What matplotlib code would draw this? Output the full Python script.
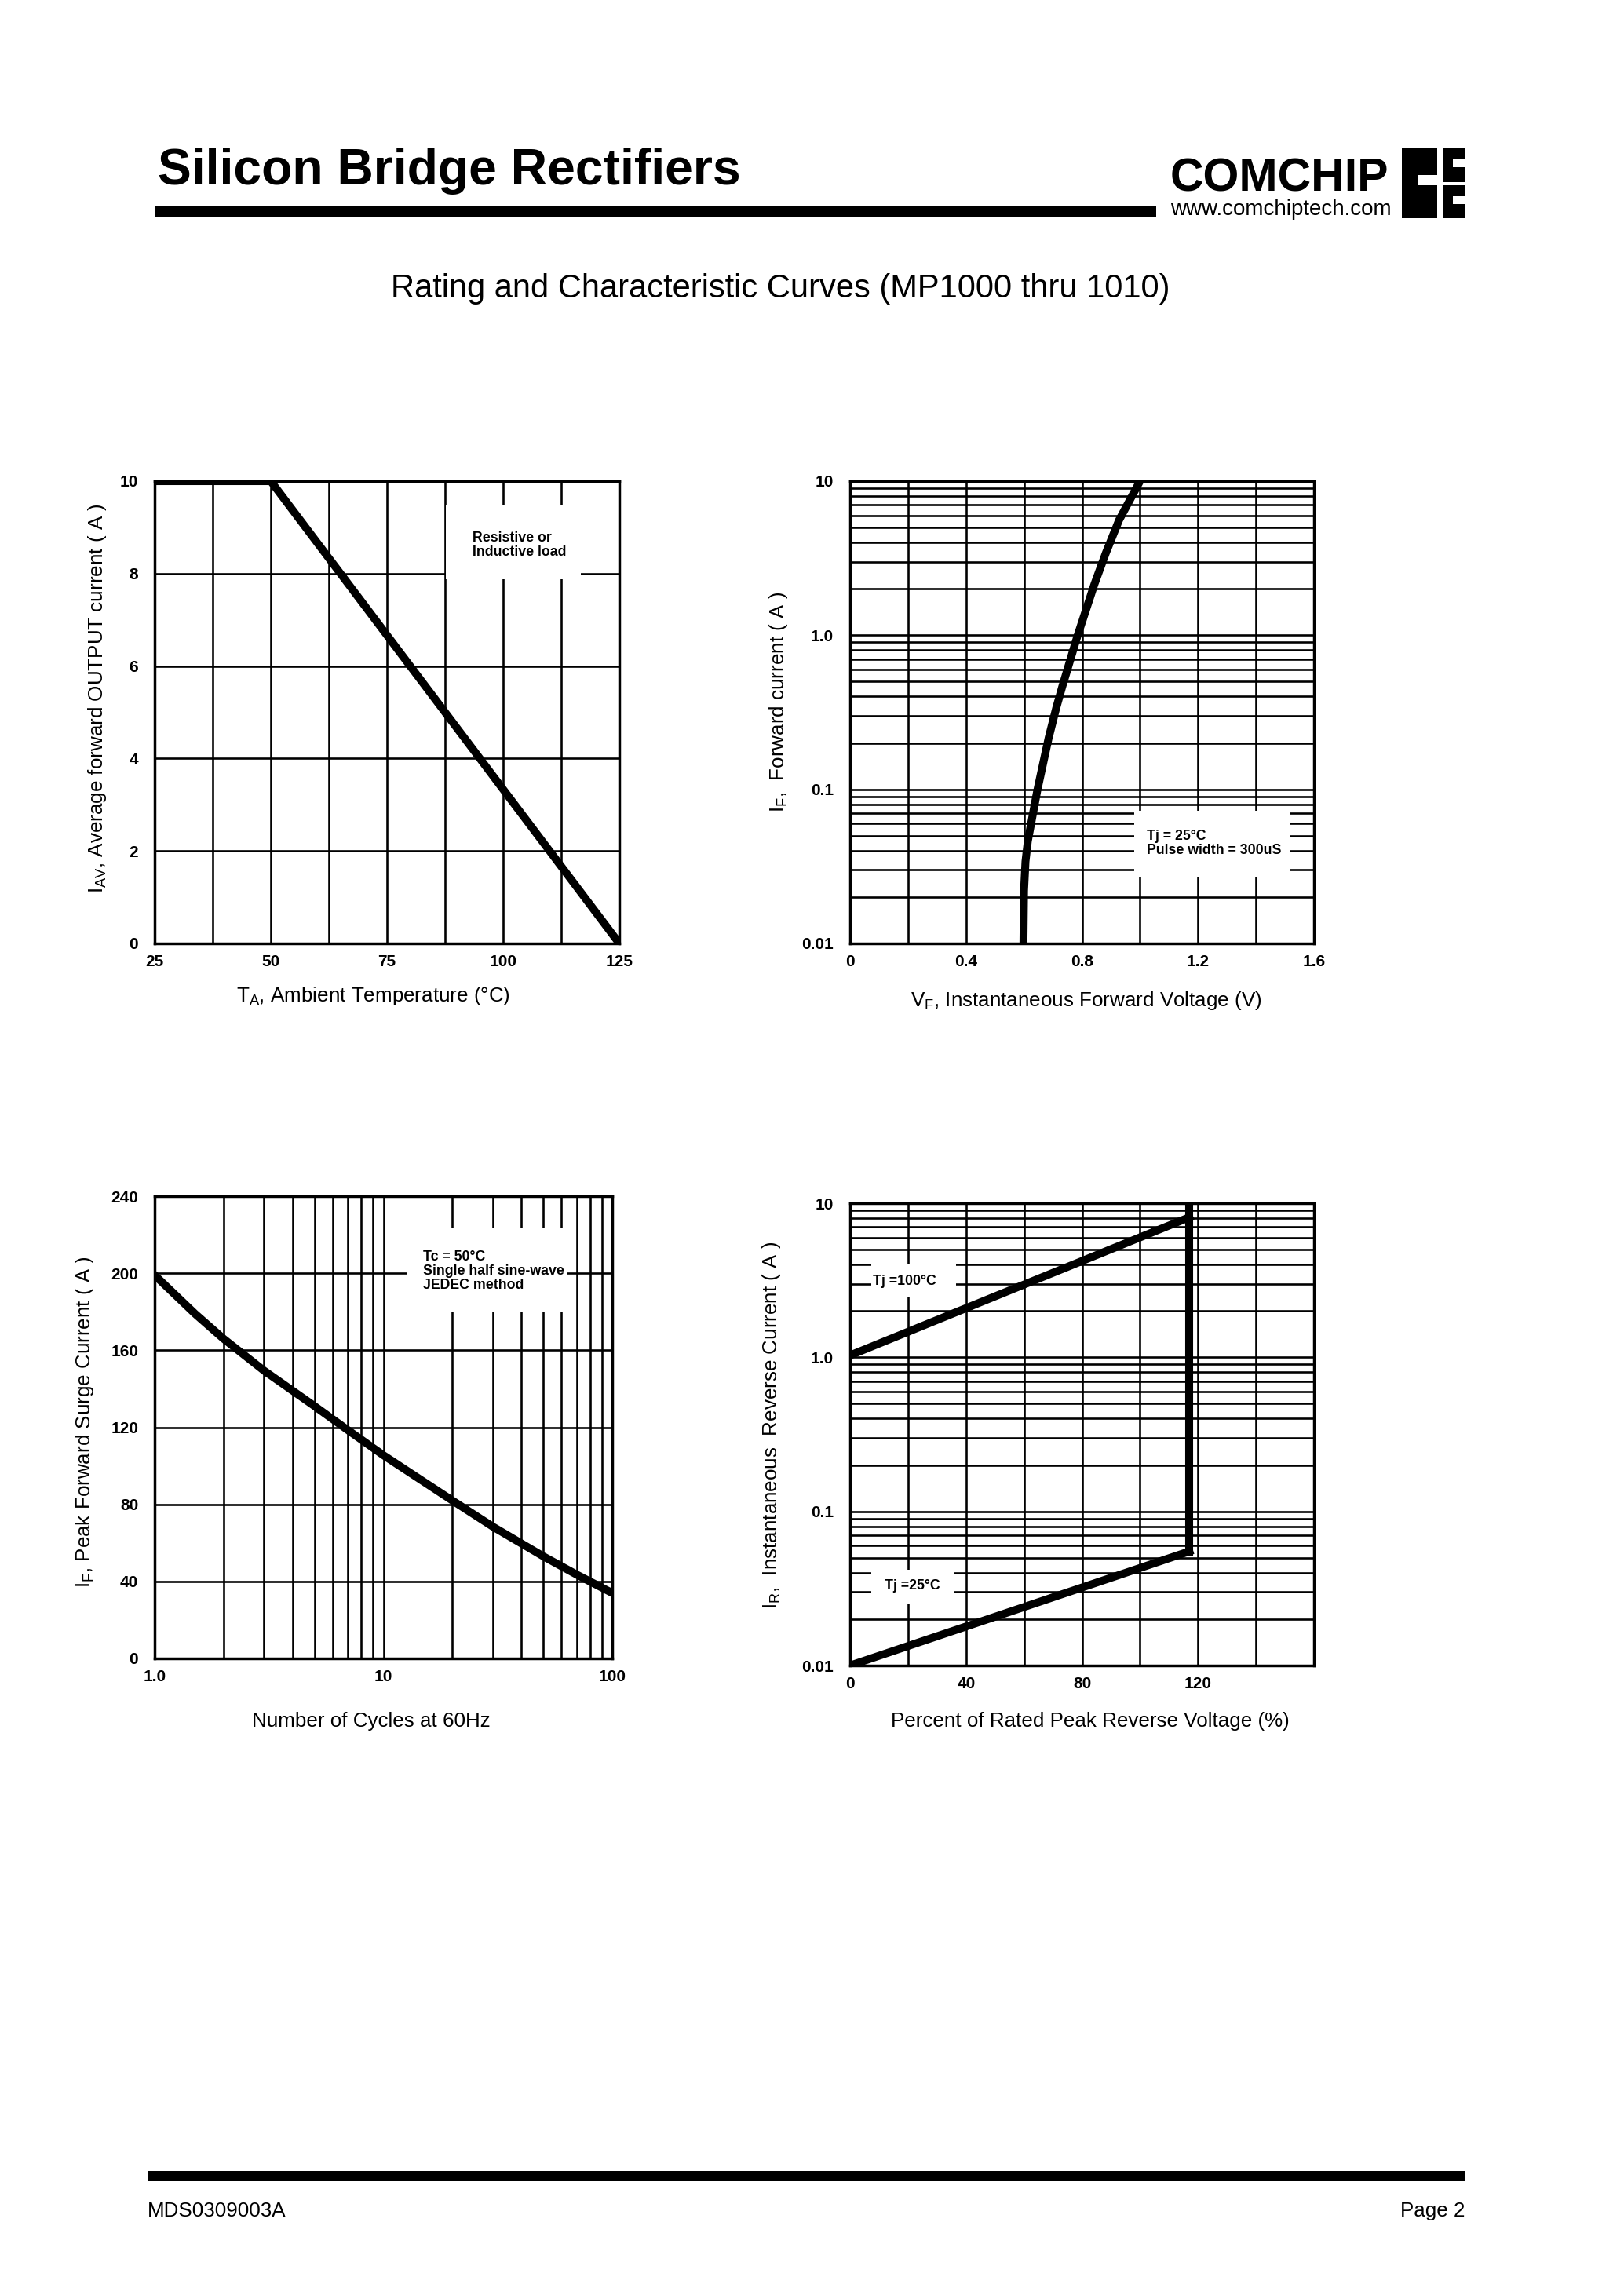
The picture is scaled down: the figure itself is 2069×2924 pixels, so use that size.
import matplotlib
matplotlib.use('Agg')
from matplotlib import pyplot as plt, ticker
from matplotlib.patches import Rectangle

W, H = 2069, 2924
DPI = 250

# Fig.1 - output current derating
derate_temp = [25, 50, 125]
derate_current = [10, 10, 0]

# Fig.2 - typical forward characteristics (Tj = 25C)
fwd_voltage = [0.598, 0.600, 0.605, 0.613, 0.646, 0.685, 0.711, 0.732, 0.784, 0.843, 0.882, 0.928, 1.000]
fwd_current = [0.010, 0.022, 0.034, 0.046, 0.099, 0.216, 0.337, 0.465, 0.986, 2.15, 3.41, 5.6, 10.0]

# Fig.3 - peak forward surge current
surge_cycles = [1, 1.5, 2, 3, 5, 7, 10, 20, 30, 50, 70, 100]
surge_current = [199, 179, 166, 149.5, 131, 118.5, 105.5, 82, 68.5, 53, 43.5, 34]

# Fig.4 - reverse characteristics
rev_pct = [0, 117]
rev_current_100 = [1.03, 8.1]
rev_current_25 = [0.01, 0.055]
rev_step_pct = [117, 117]
rev_step_current = [10, 0.055]

plt.rcParams['font.family'] = ['Liberation Sans', 'DejaVu Sans']
plt.rcParams['mathtext.fontset'] = 'custom'
plt.rcParams['mathtext.rm'] = 'Liberation Sans'

CURVE_LW = 2.9
GRID_LW = 0.75
TICK_FS = 6
LABEL_FS = 7.5
NOTE_FS = 5.1


def px_rect(x0, y0, x1, y1):
    return [x0 / W, 1 - y1 / H, (x1 - x0) / W, (y1 - y0) / H]


def block(fig, x0, y0, x1, y1, color='black'):
    l, b, w, h = px_rect(x0, y0, x1, y1)
    fig.add_artist(Rectangle((l, b), w, h, transform=fig.transFigure,
                             facecolor=color, edgecolor='none'))


def style_axes(ax):
    ax.set_axisbelow(True)
    ax.grid(which='both', color='black', lw=GRID_LW)
    ax.tick_params(which='both', length=0, labelsize=TICK_FS)
    ax.tick_params(axis='x', pad=4)
    ax.tick_params(axis='y', pad=6)
    for sp in ax.spines.values():
        sp.set_linewidth(1.0)


def curve(ax, x, y):
    ax.plot(x, y, color='black', lw=CURVE_LW, zorder=2, solid_joinstyle='round')


def mask(ax, x0, y0, x1, y1):
    ax.add_patch(Rectangle((x0, y0), x1 - x0, y1 - y0, transform=ax.transAxes,
                           facecolor='white', edgecolor='none', zorder=1.5))


def note(ax, x, y, s):
    ax.text(x, y, s, transform=ax.transAxes, fontsize=NOTE_FS, fontweight='bold',
            ha='left', va='center', linespacing=1.05, zorder=3)


def labels(ax, xl, xpos, yl, ypos):
    ax.set_xlabel(xl, fontsize=LABEL_FS, va='center')
    ax.xaxis.set_label_coords(*xpos)
    ax.set_ylabel(yl, fontsize=LABEL_FS, va='center')
    ax.yaxis.set_label_coords(*ypos)


def main():
    fig = plt.figure(figsize=(W / DPI, H / DPI), dpi=DPI)

    # header
    fig.text(201 / W, 1 - 235 / H, 'Silicon Bridge Rectifiers', fontsize=18.5,
             fontweight='bold', va='baseline', ha='left')
    block(fig, 197, 263, 1473, 276)
    fig.text(1491 / W, 1 - 243 / H, 'COMCHIP', fontsize=17, fontweight='bold',
             va='baseline', ha='left')
    fig.text(1491 / W, 1 - 274 / H, 'www.comchiptech.com', fontsize=8,
             va='baseline', ha='left')
    block(fig, 1786, 189, 1831, 278)
    block(fig, 1806, 223, 1831, 236, 'white')
    block(fig, 1839, 189, 1867, 232)
    block(fig, 1839, 236, 1867, 278)
    block(fig, 1851, 203, 1867, 213, 'white')
    block(fig, 1851, 250, 1867, 260, 'white')
    fig.text(994 / W, 1 - 379 / H, 'Rating and Characteristic Curves (MP1000 thru 1010)',
             fontsize=12, ha='center', va='baseline')

    # Fig.1
    ax1 = fig.add_axes(px_rect(197, 613, 789, 1202))
    curve(ax1, derate_temp, derate_current)
    ax1.set_xlim(25, 125)
    ax1.set_ylim(0, 10)
    ax1.set_xticks([25, 50, 75, 100, 125], ['25', '50', '75', '100', '125'], fontweight='bold')
    ax1.xaxis.set_minor_locator(ticker.MultipleLocator(12.5))
    ax1.set_yticks([0, 2, 4, 6, 8, 10], ['0', '2', '4', '6', '8', '10'], fontweight='bold')
    style_axes(ax1)
    mask(ax1, 0.627, 0.788, 0.918, 0.948)
    note(ax1, 0.684, 0.862, 'Resistive or\nInductive load')
    labels(ax1, r'$\mathregular{T_A}$, Ambient Temperature (°C)', (0.47, -0.114),
           r'$\mathregular{I_{AV}}$, Average forward OUTPUT current ( A )', (-0.123, 0.53))

    # Fig.2
    ax2 = fig.add_axes(px_rect(1083, 613, 1674, 1202))
    curve(ax2, fwd_voltage, fwd_current)
    ax2.set_yscale('log')
    ax2.set_xlim(0, 1.6)
    ax2.set_ylim(0.01, 10)
    ax2.set_xticks([0, 0.4, 0.8, 1.2, 1.6], ['0', '0.4', '0.8', '1.2', '1.6'], fontweight='bold')
    ax2.xaxis.set_minor_locator(ticker.MultipleLocator(0.2))
    ax2.set_yticks([0.01, 0.1, 1, 10], ['0.01', '0.1', '1.0', '10'], fontweight='bold')
    ax2.yaxis.set_minor_locator(ticker.LogLocator(base=10, subs=range(2, 10)))
    ax2.yaxis.set_minor_formatter(ticker.NullFormatter())
    style_axes(ax2)
    mask(ax2, 0.613, 0.143, 0.948, 0.287)
    note(ax2, 0.640, 0.216, 'Tj = 25°C\nPulse width = 300uS')
    labels(ax2, r'$\mathregular{V_F}$, Instantaneous Forward Voltage (V)', (0.508, -0.124),
           r'$\mathregular{I_F}$,  Forward current ( A )', (-0.154, 0.523))

    # Fig.3
    ax3 = fig.add_axes(px_rect(197, 1524, 780, 2113))
    curve(ax3, surge_cycles, surge_current)
    ax3.set_xscale('log')
    ax3.set_xlim(1, 100)
    ax3.set_ylim(0, 240)
    ax3.set_xticks([1, 10, 100], ['1.0', '10', '100'], fontweight='bold')
    ax3.xaxis.set_minor_locator(ticker.LogLocator(base=10, subs=range(2, 10)))
    ax3.xaxis.set_minor_formatter(ticker.NullFormatter())
    ax3.set_yticks(range(0, 241, 40), [str(v) for v in range(0, 241, 40)], fontweight='bold')
    style_axes(ax3)
    mask(ax3, 0.55, 0.748, 0.90, 0.931)
    note(ax3, 0.586, 0.838, 'Tc = 50°C\nSingle half sine-wave\nJEDEC method')
    labels(ax3, 'Number of Cycles at 60Hz', (0.473, -0.136),
           r'$\mathregular{I_F}$, Peak Forward Surge Current ( A )', (-0.153, 0.511))

    # Fig.4
    ax4 = fig.add_axes(px_rect(1083, 1533, 1674, 2122))
    curve(ax4, rev_pct, rev_current_100)
    curve(ax4, rev_pct, rev_current_25)
    curve(ax4, rev_step_pct, rev_step_current)
    ax4.set_yscale('log')
    ax4.set_xlim(0, 160)
    ax4.set_ylim(0.01, 10)
    ax4.set_xticks([0, 40, 80, 120], ['0', '40', '80', '120'], fontweight='bold')
    ax4.xaxis.set_minor_locator(ticker.MultipleLocator(20))
    ax4.set_yticks([0.01, 0.1, 1, 10], ['0.01', '0.1', '1.0', '10'], fontweight='bold')
    ax4.yaxis.set_minor_locator(ticker.LogLocator(base=10, subs=range(2, 10)))
    ax4.yaxis.set_minor_formatter(ticker.NullFormatter())
    style_axes(ax4)
    mask(ax4, 0.045, 0.796, 0.229, 0.870)
    note(ax4, 0.049, 0.831, 'Tj =100°C')
    mask(ax4, 0.045, 0.133, 0.225, 0.207)
    note(ax4, 0.074, 0.172, 'Tj =25°C')
    labels(ax4, 'Percent of Rated Peak Reverse Voltage (%)', (0.518, -0.121),
           r'$\mathregular{I_R}$,  Instantaneous  Reverse Current ( A )', (-0.169, 0.52))

    # footer
    block(fig, 188, 2766, 1866, 2779)
    fig.text(188 / W, 1 - 2824 / H, 'MDS0309003A', fontsize=7.5, ha='left', va='baseline')
    fig.text(1866 / W, 1 - 2824 / H, 'Page 2', fontsize=7.5, ha='right', va='baseline')

    fig.savefig('out.png', dpi=DPI, facecolor='white')


if __name__ == '__main__':
    main()
